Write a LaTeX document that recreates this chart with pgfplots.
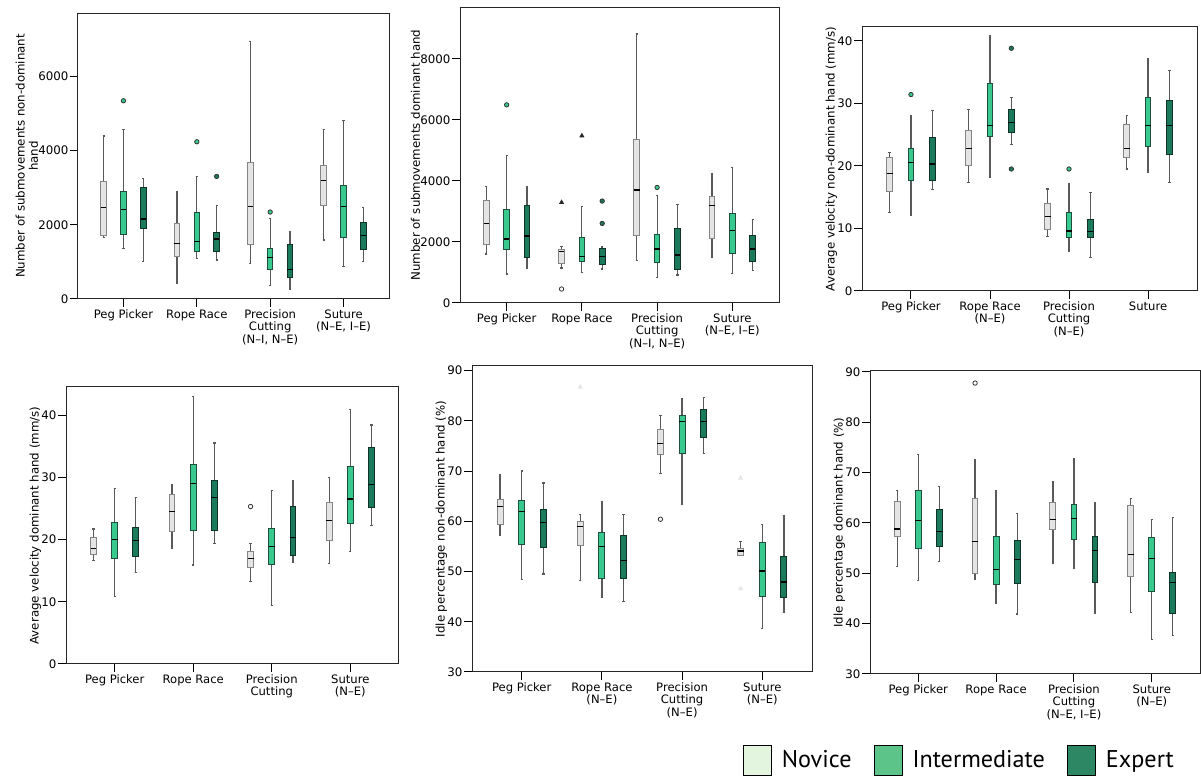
\documentclass[border=0pt]{standalone}
\usepackage{fontspec}
\setmainfont{DejaVu Sans}
\newfontfamily\legfont{PT Sans}
\usepackage{pgfplots}
\usepackage{pgfplotstable}
\usepgfplotslibrary{statistics}
\pgfplotsset{compat=1.18}

\definecolor{novfill}{HTML}{E4E4E4}
\definecolor{novdraw}{HTML}{858585}
\definecolor{intfill}{HTML}{38C98F}
\definecolor{intdraw}{HTML}{1E4F3E}
\definecolor{expfill}{HTML}{1B7A5B}
\definecolor{expdraw}{HTML}{0F3326}
\definecolor{novleg}{HTML}{E3F4DF}
\definecolor{intleg}{HTML}{5CC489}
\definecolor{expleg}{HTML}{2E8764}

% columns: lower whisker, lower quartile, median, upper quartile, upper whisker
% rows: Peg Picker N/I/E, Rope Race N/I/E, Precision Cutting N/I/E, Suture N/I/E
\pgfplotstableread{
lw lq med uq uw
1650 1722 2457 3175 4386
1363 1740 2413 2906 4574
1005 1892 2153 2996 3238
422 1139 1498 2036 2879
1085 1274 1552 2332 3292
1049 1274 1614 1794 2511
960 1471 2484 3686 6942
368 798 1121 1354 2162
269 574 798 1462 1803
1588 2529 3193 3597 4556
870 1659 2484 3049 4807
1013 1336 1704 2063 2457
}\subnondom
\pgfplotstableread{
lw lq med uq uw
1604 1921 2608 3372 3820
950 1746 2095 3056 4846
1146 1495 2194 3198 3820
1146 1310 1692 1746 1855
1004 1375 1528 2161 3165
1113 1277 1517 1801 1834
1386 2226 3700 5370 8818
840 1342 1768 2248 3525
917 1113 1572 2445 3231
1484 2128 3198 3492 4224
971 1626 2368 2947 4431
1059 1375 1768 2205 2739
}\subdom
\pgfplotstableread{
lw lq med uq uw
12.6 15.9 18.8 21.4 22.2
12.1 17.7 20.5 22.7 28.1
16.2 17.6 20.3 24.6 28.8
17.4 20.1 22.8 25.7 29.0
18.1 24.7 26.4 33.2 40.9
23.4 25.3 26.9 29.0 30.9
8.7 9.8 11.9 14.0 16.3
6.3 8.6 9.6 12.6 17.2
5.3 8.5 9.5 11.4 15.7
19.5 21.4 22.8 26.6 28.0
19.0 23.1 26.4 31.0 37.2
17.4 21.8 26.4 30.4 35.3
}\velnondom
\pgfplotstableread{
lw lq med uq uw
16.6 17.6 18.5 20.4 21.7
10.9 17.0 20.0 22.7 28.2
14.7 17.2 19.9 21.9 26.8
18.6 21.3 24.5 27.2 28.9
15.9 21.4 29.0 32.0 43.0
19.4 21.4 26.8 29.4 35.5
13.3 15.5 17.0 18.0 19.3
9.4 16.0 18.9 21.7 27.9
16.3 17.4 20.3 25.3 29.5
16.2 19.8 23.0 26.0 29.9
18.1 22.6 26.5 31.8 40.9
22.3 25.1 28.9 34.8 38.4
}\veldom
\pgfplotstableread{
lw lq med uq uw
57.1 59.3 62.9 64.4 69.2
48.4 55.3 61.9 64.2 70.0
49.5 54.8 59.7 62.3 67.6
48.2 55.2 58.9 59.9 61.3
44.9 48.6 54.9 57.7 64.0
44.1 48.6 52.2 57.2 61.3
69.5 73.3 75.5 78.2 81.1
63.4 73.5 79.9 81.0 84.5
73.5 76.6 79.9 82.3 84.7
53.2 53.2 54.1 54.5 55.9
38.7 45.1 50.1 55.7 59.3
41.8 44.9 47.9 53.0 61.1
}\idlenondom
\pgfplotstableread{
lw lq med uq uw
51.4 57.3 58.8 64.2 66.5
48.5 54.9 60.5 66.4 73.6
52.3 55.3 58.3 62.7 67.3
48.7 50.0 56.4 64.8 72.6
44.1 47.8 50.8 57.3 66.5
41.9 48.0 52.8 56.6 61.9
51.9 58.7 60.7 64.0 68.3
50.9 56.7 60.9 63.6 72.7
42.1 48.2 54.6 57.3 64.1
42.2 49.4 53.7 63.4 64.9
36.8 46.3 52.9 57.1 60.7
37.7 42.1 48.2 50.2 61.1
}\idledom

\newcommand{\drawboxes}[1]{%
  \pgfplotsforeachungrouped \r in {0,...,11}{%
    \pgfplotstablegetelem{\r}{lw}\of{#1}\let\vlw\pgfplotsretval
    \pgfplotstablegetelem{\r}{lq}\of{#1}\let\vlq\pgfplotsretval
    \pgfplotstablegetelem{\r}{med}\of{#1}\let\vmed\pgfplotsretval
    \pgfplotstablegetelem{\r}{uq}\of{#1}\let\vuq\pgfplotsretval
    \pgfplotstablegetelem{\r}{uw}\of{#1}\let\vuw\pgfplotsretval
    \pgfmathsetmacro\vpos{floor(\r/3)+1+(mod(\r,3)-1)*0.27}%
    \pgfmathtruncatemacro\vidx{mod(\r,3)}%
    \edef\vsty{\ifcase\vidx boxN\or boxI\else boxE\fi}%
    \edef\doplot{\noexpand\addplot[\vsty, forget plot, boxplot prepared={draw position=\vpos,
      lower whisker=\vlw, lower quartile=\vlq, median=\vmed,
      upper quartile=\vuq, upper whisker=\vuw}] coordinates {};}%
    \doplot
  }}

\pgfplotsset{
  boxN/.style={draw=novdraw, fill=novfill, line width=0.5pt},
  boxI/.style={draw=intdraw, fill=intfill, line width=0.5pt},
  boxE/.style={draw=expdraw, fill=expfill, line width=0.5pt},
  panel/.style={
    scale only axis, anchor=south west,
    xmin=0.38, xmax=4.62, xtick={1,2,3,4},
    tick align=outside, tick pos=left, major tick length=4pt,
    xticklabel style={align=center, inner ysep=1.2pt, font=\fontsize{5.8}{6.1}\selectfont},
    yticklabel style={inner xsep=0.6pt, font=\fontsize{5.9}{7}\selectfont},
    ylabel style={font=\fontsize{5.9}{6.6}\selectfont, align=center},
    ylabel shift=-4pt,
    /pgf/number format/assume math mode=true,
    /pgf/number format/1000 sep={},
    axis line style={black!85, line width=0.5pt},
    tick style={black, line width=0.5pt},
    boxplot/draw direction=y,
    boxplot/box extend=0.075,
    boxplot/whisker extend=0.03,
    boxplot/every median/.style={black, line width=0.6pt},
    boxplot/every whisker/.style={black!65, line width=0.6pt},
  },
  outI/.style={only marks, forget plot, mark=*, mark size=1.1pt, draw=black!80, fill=intfill},
  outE/.style={only marks, forget plot, mark=*, mark size=1.1pt, draw=black!80, fill=expfill},
  outN/.style={only marks, forget plot, mark=*, mark size=1.1pt, draw=black!80, fill=white},
  extr/.style={only marks, forget plot, mark=triangle*, mark size=1.1pt, black!85},
  faint/.style={only marks, forget plot, mark=triangle*, mark size=1.1pt, black!10},
}

\begin{document}
\begin{tikzpicture}
\useasboundingbox (0,0) rectangle (600.5pt,388pt);

% top left
\begin{axis}[panel, at={(39pt,238.5pt)}, width=155.5pt, height=143pt,
  ymin=0, ymax=7700, ytick={0,2000,4000,6000},
  ylabel={Number of submovements non-dominant\\hand},
  xticklabels={Peg Picker, Rope Race, {Precision\\Cutting\\(N–I, N–E)}, {Suture\\(N–E, I–E)}}]
\drawboxes{\subnondom}
\addplot[outI] coordinates {(1,5337) (2,4233) (3,2341)};
\addplot[outE] coordinates {(2.27,3300)};
\end{axis}

% top middle
\begin{axis}[panel, at={(230pt,236.5pt)}, width=159.5pt, height=148pt,
  ymin=0, ymax=9700, ytick={0,2000,4000,6000,8000},
  ylabel={Number of submovements dominant hand},
  xticklabels={Peg Picker, Rope Race, {Precision\\Cutting\\(N–I, N–E)}, {Suture\\(N–E, I–E)}}]
\drawboxes{\subdom}
\addplot[outI] coordinates {(1,6494) (3,3787)};
\addplot[outE] coordinates {(2.27,3340) (2.27,2608)};
\addplot[outN] coordinates {(1.73,458)};
\addplot[extr] coordinates {(1.73,3296) (2,5479)};
\end{axis}

% top right
\begin{axis}[panel, at={(431pt,242.5pt)}, width=167.5pt, height=132pt,
  ymin=0, ymax=42.2, ytick={0,10,20,30,40},
  ylabel={Average velocity non-dominant hand (mm/s)},
  xticklabels={Peg Picker, {Rope Race\\(N–E)}, {Precision\\Cutting\\(N–E)}, Suture}]
\drawboxes{\velnondom}
\addplot[outI] coordinates {(1,31.4) (3,19.5)};
\addplot[outE] coordinates {(2.27,38.8) (2.27,19.5)};
\end{axis}

% bottom left
\begin{axis}[panel, at={(33pt,56pt)}, width=166.5pt, height=138.5pt,
  ymin=0, ymax=44.5, ytick={0,10,20,30,40},
  ylabel={Average velocity dominant hand (mm/s)},
  xticklabels={Peg Picker, Rope Race, {Precision\\Cutting}, {Suture\\(N–E)}}]
\drawboxes{\veldom}
\addplot[outN] coordinates {(2.73,25.3)};
\end{axis}

% bottom middle
\begin{axis}[panel, at={(236pt,52pt)}, width=170pt, height=153pt,
  ymin=30, ymax=90.9, ytick={30,40,50,60,70,80,90},
  ylabel={Idle percentage non-dominant hand (\%)},
  xticklabels={Peg Picker, {Rope Race\\(N–E)}, {Precision\\Cutting\\(N–E)}, {Suture\\(N–E)}}]
\drawboxes{\idlenondom}
\addplot[outN] coordinates {(2.73,60.4)};
\addplot[faint] coordinates {(1.73,86.7) (3.73,68.6) (3.73,46.6)};
\end{axis}

% bottom right
\begin{axis}[panel, at={(435pt,51pt)}, width=165pt, height=151.5pt,
  ymin=30, ymax=90.2, ytick={30,40,50,60,70,80,90},
  ylabel={Idle percentage dominant hand (\%)},
  xticklabels={Peg Picker, Rope Race, {Precision\\Cutting\\(N–E, I–E)}, {Suture\\(N–E)}},
  legend image code/.code={\draw[#1, draw=black, line width=0.5pt] (0pt,-7.5pt) rectangle (14pt,7.5pt);},
  legend columns=3,
  legend style={at={(-0.405,-0.284)}, anchor=west, draw=none, fill=none,
    font=\legfont\fontsize{12.1}{13}\selectfont,
    /tikz/every odd column/.append style={column sep=3pt},
    /tikz/every even column/.append style={column sep=9pt}}]
\drawboxes{\idledom}
\addplot[outN] coordinates {(1.73,87.8)};
\addlegendimage{fill=novleg}
\addlegendentry{Novice}
\addlegendimage{fill=intleg}
\addlegendentry{Intermediate}
\addlegendimage{fill=expleg}
\addlegendentry{Expert}
\end{axis}
\end{tikzpicture}
\end{document}
